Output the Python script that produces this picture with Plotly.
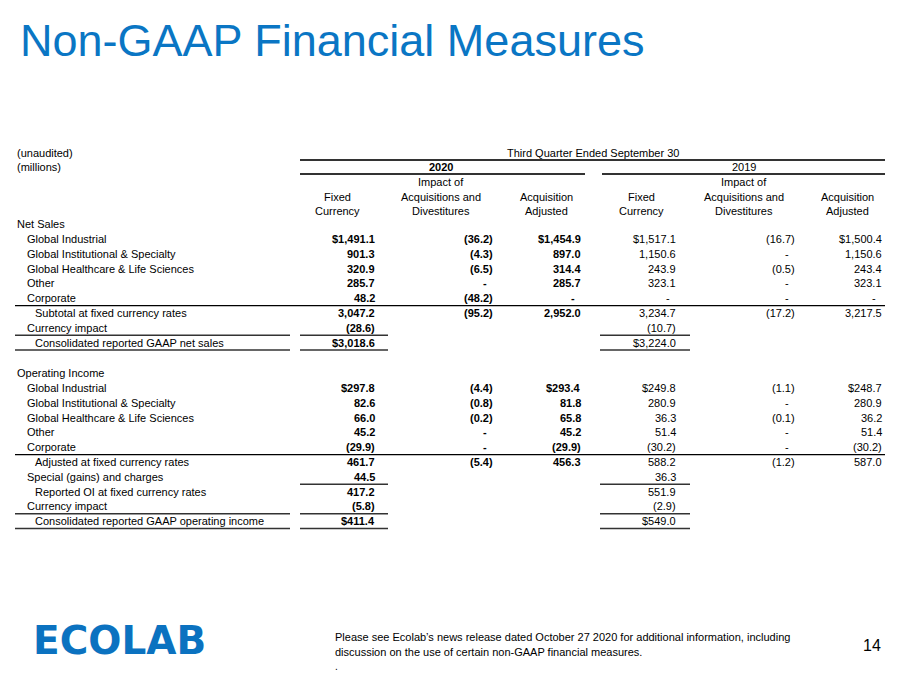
import plotly.graph_objects as go

# ---- data -------------------------------------------------------------
sales_labels = ["Global Industrial", "Global Institutional & Specialty",
                "Global Healthcare & Life Sciences", "Other", "Corporate",
                "Subtotal at fixed currency rates", "Currency impact",
                "Consolidated reported GAAP net sales"]
sales_indent = [1, 1, 1, 1, 1, 2, 1, 2]
sales_fc20 = [1491.1, 901.3, 320.9, 285.7, 48.2, 3047.2, -28.6, 3018.6]
sales_imp20 = [-36.2, -4.3, -6.5, 0, -48.2, -95.2, None, None]
sales_adj20 = [1454.9, 897.0, 314.4, 285.7, 0, 2952.0, None, None]
sales_fc19 = [1517.1, 1150.6, 243.9, 323.1, 0, 3234.7, -10.7, 3224.0]
sales_imp19 = [-16.7, 0, -0.5, 0, 0, -17.2, None, None]
sales_adj19 = [1500.4, 1150.6, 243.4, 323.1, 0, 3217.5, None, None]
sales_dollar = [0, 7]

oi_labels = ["Global Industrial", "Global Institutional & Specialty",
             "Global Healthcare & Life Sciences", "Other", "Corporate",
             "Adjusted at fixed currency rates", "Special (gains) and charges",
             "Reported OI at fixed currency rates", "Currency impact",
             "Consolidated reported GAAP operating income"]
oi_indent = [1, 1, 1, 1, 1, 2, 1, 2, 1, 2]
oi_fc20 = [297.8, 82.6, 66.0, 45.2, -29.9, 461.7, 44.5, 417.2, -5.8, 411.4]
oi_imp20 = [-4.4, -0.8, -0.2, 0, 0, -5.4, None, None, None, None]
oi_adj20 = [293.4, 81.8, 65.8, 45.2, -29.9, 456.3, None, None, None, None]
oi_fc19 = [249.8, 280.9, 36.3, 51.4, -30.2, 588.2, 36.3, 551.9, -2.9, 549.0]
oi_imp19 = [-1.1, 0, -0.1, 0, 0, -1.2, None, None, None, None]
oi_adj19 = [248.7, 280.9, 36.2, 51.4, -30.2, 587.0, None, None, None, None]
oi_dollar = [0, 9]

col_headers = [["", "Fixed", "Currency"],
               ["Impact of", "Acquisitions and", "Divestitures"],
               ["", "Acquisition", "Adjusted"]]

# rules under rows: (row index, segments)
sales_rules = [(4, ["full"]), (6, ["label", "c1", "c4"]), (7, ["label", "c1", "c4"])]
oi_rules = [(4, ["full"]), (6, ["c1", "c4"]), (8, ["label", "c1", "c4"]),
            (9, ["label", "c1", "c4"])]

# ---- layout constants -----------------------------------------------
FONT = "Liberation Sans, Arial, sans-serif"
BLUE = "#0a76c4"
col_right = [377, 495, 583, 678, 797, 884]
col_center = [337, 441, 546, 641, 744, 847]
segs = {"full": (15, 885), "label": (15, 290), "c1": (300, 388), "c4": (600, 690)}
indent_x = {0: 15, 1: 25, 2: 33}
STEP = 14.8
PAGE_OFF = 8  # default body margin of the html page

annotations = []
shapes = []


def txt(x, y, s, size=11, anchor="left", bold=False, color="black"):
    if bold:
        s = "<b>" + s + "</b>"
    annotations.append(dict(x=x, y=y, text=s, showarrow=False, xanchor=anchor,
                            yanchor="middle", xref="x", yref="y",
                            font=dict(family=FONT, size=size, color=color)))


def line(x0, x1, y, width=1, color="black"):
    shapes.append(dict(type="line", x0=x0, x1=x1, y0=y, y1=y, xref="x", yref="y",
                       line=dict(color=color, width=width)))


def fmt(v, dollar):
    if v == 0:
        return "-"
    s = "{:,.1f}".format(abs(v))
    if dollar:
        s = "$" + s
    return "(" + s + ")" if v < 0 else s


def section(title, y0, labels, indent, cols, dollar_rows, rules):
    txt(indent_x[0], y0 - STEP, title)
    for i, lab in enumerate(labels):
        y = y0 + STEP * i
        txt(indent_x[indent[i]], y, lab)
        for c, vals in enumerate(cols):
            v = vals[i]
            if v is None:
                continue
            s = fmt(v, i in dollar_rows and c not in (1, 4))
            txt(col_right[c], y, s, anchor="right", bold=c < 3)
            if s == "-":
                annotations[-1]["xshift"] = -6
    for i, parts in rules:
        y = y0 + STEP * i + 7.4
        for p in parts:
            a, b = segs[p]
            if p == "full":
                line(a, b, y, 1.2)
            else:
                line(a, b, y, 1.5, "#333333")


# ---- title ------------------------------------------------------------
txt(18, 40, "Non-GAAP Financial Measures", size=45, color=BLUE)

# ---- table header -----------------------------------------------------
txt(15, 153, "(unaudited)")
txt(15, 167, "(millions)")
txt(593, 153, "Third Quarter Ended September 30", anchor="center")
line(300, 885, 160, 2, "#333333")
txt(441, 167, "2020", anchor="center", bold=True)
txt(744, 167, "2019", anchor="center")
line(300, 585, 174, 2, "#333333")
line(602, 885, 174, 2, "#333333")
for k in range(6):
    for j, h in enumerate(col_headers[k % 3]):
        if h:
            txt(col_center[k], 182 + 14.5 * j, h, anchor="center")

section("Net Sales", 239, sales_labels, sales_indent,
        [sales_fc20, sales_imp20, sales_adj20, sales_fc19, sales_imp19, sales_adj19],
        sales_dollar, sales_rules)
section("Operating Income", 388, oi_labels, oi_indent,
        [oi_fc20, oi_imp20, oi_adj20, oi_fc19, oi_imp19, oi_adj19],
        oi_dollar, oi_rules)

# ---- footer -------------------------------------------------------------
txt(31, 640, "<b>ECOLAB</b>", size=39, color="#0b72c0")
annotations[-1]["font"]["family"] = "DejaVu Sans, Arial Black, sans-serif"
txt(333, 637, "Please see Ecolab\u2019s news release dated October 27 2020 for additional information, including", size=11)
txt(333, 652, "discussion on the use of certain non-GAAP financial measures.", size=11)
txt(333, 666, ".", size=10)
txt(883, 645, "14", size=16, anchor="right")

fig = go.Figure()
fig.update_layout(
    width=900, height=675,
    margin=dict(l=0, r=0, t=0, b=0),
    paper_bgcolor="white", plot_bgcolor="white",
    xaxis=dict(range=[PAGE_OFF, 900 + PAGE_OFF], visible=False, fixedrange=True),
    yaxis=dict(range=[675 + PAGE_OFF, PAGE_OFF], visible=False, fixedrange=True),
    annotations=annotations, shapes=shapes, showlegend=False,
)
fig.write_html("out.html")
